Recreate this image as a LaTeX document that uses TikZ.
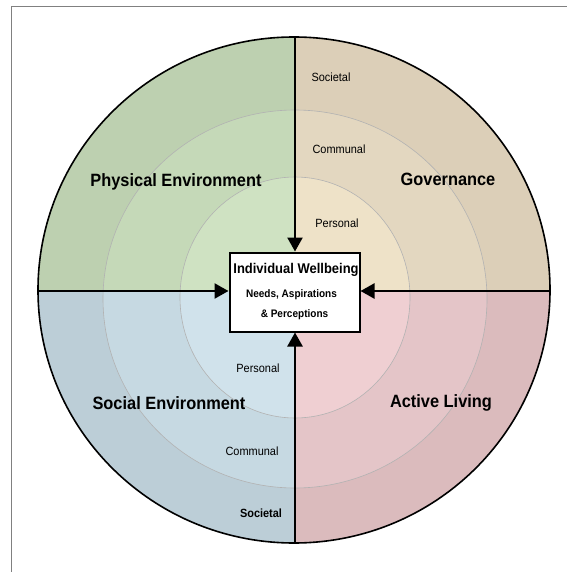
\documentclass[tikz,border=0pt]{standalone}
\usepackage{fontspec}
\setmainfont[FakeStretch=0.92]{Liberation Sans}
\usetikzlibrary{arrows.meta}
\definecolor{gA}{HTML}{BDD0B0}\definecolor{gB}{HTML}{C5D9B8}\definecolor{gC}{HTML}{CFE2C2}
\definecolor{tA}{HTML}{DCCFB8}\definecolor{tB}{HTML}{E3D7C0}\definecolor{tC}{HTML}{EEE2C8}
\definecolor{bA}{HTML}{BCCED7}\definecolor{bB}{HTML}{C6D9E2}\definecolor{bC}{HTML}{D0E2EB}
\definecolor{rA}{HTML}{DBBBBD}\definecolor{rB}{HTML}{E4C5C8}\definecolor{rC}{HTML}{EFCFD2}
\tikzset{
  x=1pt,y=-1pt,
  ringline/.style={draw=black!30,line width=0.6pt},
  spoke/.style={line width=2.4pt,-{Triangle[length=14pt,width=15pt]}},
  big/.style={font=\bfseries\fontsize{17.8}{20}\selectfont,inner sep=0pt},
  small/.style={font=\fontsize{11.9}{13}\selectfont,inner sep=0pt},
  centrebox/.style={draw=black,line width=2pt,fill=white,minimum width=130pt,minimum height=79pt,inner sep=0pt},
}
\newcommand{\quadrant}[7]{% clip corners, colours (outer, mid, inner)
  \begin{scope}
  \clip (#1,#2) rectangle (#3,#4);
  \fill[#5] (294,290) ellipse[x radius=256pt,y radius=253pt];
  \fill[#6] (295,299) ellipse[x radius=192pt,y radius=189pt];
  \fill[#7] (295,297.5) ellipse[x radius=115pt,y radius=120.5pt];
  \end{scope}
}
\begin{document}
\begin{tikzpicture}
\useasboundingbox (0,0) rectangle (567,572);
\draw[draw=black!50,line width=1.8pt] (11.5,572) -- (11.5,6.5) -- (567,6.5);
\quadrant{295}{20}{560}{291}{tA}{tB}{tC}
\quadrant{20}{20}{295}{291}{gA}{gB}{gC}
\quadrant{20}{291}{295}{560}{bA}{bB}{bC}
\quadrant{295}{291}{560}{560}{rA}{rB}{rC}
\draw[ringline] (295,299) ellipse[x radius=192pt,y radius=189pt];
\draw[ringline] (295,297.5) ellipse[x radius=115pt,y radius=120.5pt];
\draw[line width=1.6pt] (294,290) ellipse[x radius=256pt,y radius=253pt];
\node[centrebox] (box) at (294.5,292) {};
\coordinate (top) at (295,37);
\coordinate (bottom) at (295,543);
\coordinate (left) at (38,291);
\coordinate (right) at (550,291);
\draw[spoke] (top) -- (box.north -| top);
\draw[spoke] (bottom) -- (box.south -| bottom);
\draw[spoke] (left) -- (box.west |- left);
\draw[spoke] (right) -- (box.east |- right);
\node[font=\bfseries\fontsize{14.1}{16}\selectfont,inner sep=0pt] (title) at (296,270) {Individual Wellbeing};
\node[font=\bfseries\fontsize{10.9}{12}\selectfont,inner sep=0pt] (needs) at (291.5,295) {Needs, Aspirations};
\node[font=\bfseries\fontsize{10.9}{12}\selectfont,inner sep=0pt] (perc) at (294.5,315) {\& Perceptions};
\node[big] (phys) at (176,182) {Physical Environment};
\node[big] (gov) at (448,179) {Governance};
\node[big] (soc) at (169,403) {Social Environment};
\node[big] (act) at (441,403) {Active Living};
\node[small] (s1) at (331,77) {Societal};
\node[small] (c1) at (339,149) {Communal};
\node[small] (p1) at (337,223) {Personal};
\node[small] (p2) at (258,368) {Personal};
\node[small] (c2) at (252,451) {Communal};
\node[small] (s2) at (261,513) {\bfseries Societal};
\end{tikzpicture}
\end{document}
